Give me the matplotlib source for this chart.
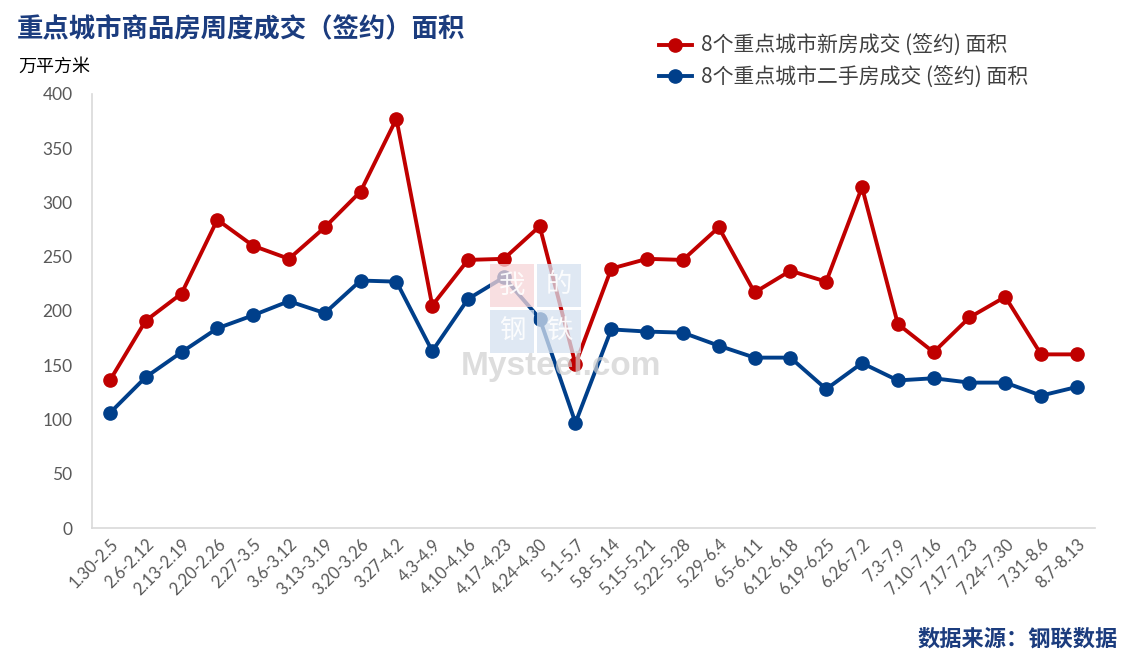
import matplotlib.pyplot as plt
from matplotlib.patches import Rectangle

plt.rcParams['font.family'] = ['Noto Sans CJK SC', 'DejaVu Sans']

weeks = ['1.30-2.5', '2.6-2.12', '2.13-2.19', '2.20-2.26', '2.27-3.5', '3.6-3.12',
         '3.13-3.19', '3.20-3.26', '3.27-4.2', '4.3-4.9', '4.10-4.16', '4.17-4.23',
         '4.24-4.30', '5.1-5.7', '5.8-5.14', '5.15-5.21', '5.22-5.28', '5.29-6.4',
         '6.5-6.11', '6.12-6.18', '6.19-6.25', '6.26-7.2', '7.3-7.9', '7.10-7.16',
         '7.17-7.23', '7.24-7.30', '7.31-8.6', '8.7-8.13']
new_homes = [136, 191, 216, 284, 260, 248, 277, 310, 377, 205, 247, 248,
             278, 151, 239, 248, 247, 277, 217, 237, 227, 314, 188, 162,
             194, 213, 160, 160]
resale_homes = [106, 139, 162, 184, 196, 209, 198, 228, 227, 163, 211, 231,
                193, 97, 183, 181, 180, 168, 157, 157, 128, 152, 136, 138,
                134, 134, 122, 130]

RED = '#C00000'
BLUE = '#003F8A'
TITLE_BLUE = '#1B3C7E'
GREY = '#595959'

fig = plt.figure(figsize=(11.23, 6.56), dpi=100)
ax = fig.add_axes([0.0819, 0.195, 0.893, 0.662])

x = list(range(len(weeks)))
l1, = ax.plot(x, new_homes, color=RED, lw=2.8, marker='o', markersize=9.5,
              label='8个重点城市新房成交 (签约) 面积', zorder=3)
l2, = ax.plot(x, resale_homes, color=BLUE, lw=2.8, marker='o', markersize=9.5,
              label='8个重点城市二手房成交 (签约) 面积', zorder=3)

ax.set_xlim(-0.5, len(weeks) - 0.5)
ax.set_ylim(0, 400)
ax.set_yticks(range(0, 401, 50))
ax.set_xticks(x)
ax.set_xticklabels(weeks, rotation=45, ha='right', rotation_mode='anchor',
                   fontsize=12, color=GREY, family=['Lato', 'DejaVu Sans'])
for lab in ax.get_yticklabels():
    lab.set_fontsize(12.5)
    lab.set_color(GREY)
    lab.set_family(['Lato', 'DejaVu Sans'])
ax.tick_params(axis='both', length=0)
ax.tick_params(axis='y', pad=14)
ax.tick_params(axis='x', pad=6)
for s in ['top', 'right']:
    ax.spines[s].set_visible(False)
ax.spines['left'].set_color('#D9D9D9')
ax.spines['bottom'].set_color('#D9D9D9')
ax.spines['left'].set_linewidth(1.2)
ax.spines['bottom'].set_linewidth(1.2)

# watermark
wm_boxes = [(490, 264, '#F6D5D8', '我'), (537, 264, '#D5E1EF', '的'),
            (490, 310, '#D5E1EF', '钢'), (537, 310, '#D5E1EF', '铁')]
for px, py, c, ch in wm_boxes:
    fig.patches.append(Rectangle((px / 1123, 1 - (py + 43) / 656), 44 / 1123, 43 / 656,
                                 transform=fig.transFigure, facecolor=c, alpha=0.75,
                                 edgecolor='none', zorder=5))
    fig.text((px + 22) / 1123, 1 - (py + 21) / 656, ch, color='white', fontsize=19,
             ha='center', va='center', zorder=6, alpha=0.9)
fig.text(461 / 1123, 1 - 375 / 656, 'Mysteel.com', color='#CFCFCF', alpha=0.7,
         fontsize=24, fontweight='bold', family=['Liberation Sans', 'DejaVu Sans'],
         ha='left', va='baseline', zorder=6)

fig.text(17 / 1123, 1 - 30 / 656, '重点城市商品房周度成交（签约）面积', color=TITLE_BLUE,
         fontsize=19, fontweight='bold', ha='left', va='center')
fig.text(18 / 1123, 1 - 67 / 656, '万平方米', color='black', fontsize=13,
         ha='left', va='center')
fig.text(1118 / 1123, 1 - 639 / 656, '数据来源：钢联数据', color=TITLE_BLUE,
         fontsize=16, fontweight='bold', ha='right', va='center')

fig.legend(handles=[l1, l2], loc='upper left', bbox_to_anchor=(640 / 1123, 1 - 16 / 656),
           frameon=False, fontsize=15, handlelength=1.6, handletextpad=0.45,
           labelspacing=0.45, labelcolor='#404040')

fig.savefig('out.png', dpi=100)
